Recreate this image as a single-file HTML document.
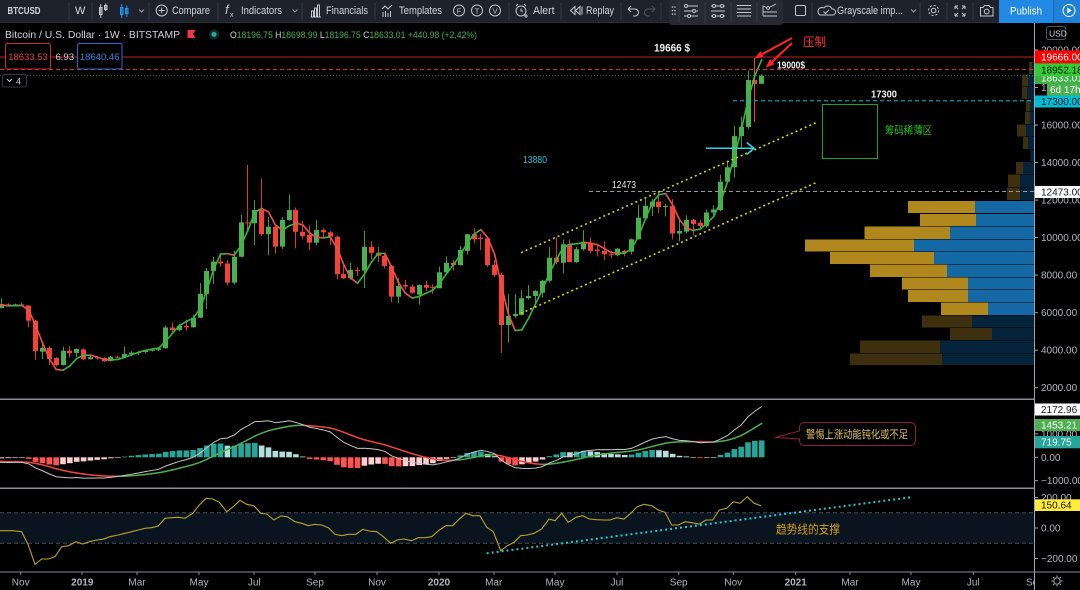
<!DOCTYPE html>
<html><head><meta charset="utf-8"><title>BTCUSD 1W</title>
<style>
html,body{margin:0;padding:0;background:#000;}
body{width:1080px;height:590px;overflow:hidden}
svg{display:block}
text{font-family:"Liberation Sans","Noto Sans CJK SC",sans-serif}
.ax{font-size:10px;fill:#b2b5be}
.tb{font-size:11px;fill:#d1d4dc}
.ta{font-size:10px;fill:#b2b5be;text-anchor:middle}
</style></head><body>
<svg id="s" width="1080" height="590" viewBox="0 0 1080 590" xmlns="http://www.w3.org/2000/svg">
<defs>
<clipPath id="cm"><rect x="0" y="23" width="1034" height="376"/></clipPath>
<clipPath id="cmacd"><rect x="0" y="400" width="1034" height="88"/></clipPath>
<clipPath id="ccci"><rect x="0" y="489" width="1034" height="83"/></clipPath>
</defs>
<rect width="1080" height="590" fill="#000"/>

<!-- CCI band -->
<rect x="0" y="512.8" width="1034" height="30.4" fill="#0a141e"/>
<line x1="0" y1="512.8" x2="1034" y2="512.8" stroke="#4a4e5a" stroke-dasharray="4 3"/>
<line x1="0" y1="543.2" x2="1034" y2="543.2" stroke="#4a4e5a" stroke-dasharray="4 3"/>

<g id="vp"></g>
<g id="cand" clip-path="url(#cm)"></g>
<g id="macd" clip-path="url(#cmacd)"></g>
<g id="cci" clip-path="url(#ccci)">
<polyline fill="none" stroke="#b8a428" stroke-width="1.1" points="0,530.7 13.3,530.7 21.7,531.7 28.3,545 35,564.3 41.7,559 48.3,559 55,556.7 61.7,546.7 68.3,545.7 76,541.7 82.7,544 89.3,541.7 96.7,540 102.7,539.3 110,536.7 118.3,535 125,533.3 131.7,531.7 138.3,530 145,528.3 151.7,527.7 158.3,526 165,518.3 171.7,517.7 178.3,517.3 185,518.3 192.7,513.3 199.3,505 206,498.3 212.7,499 219.3,502.3 226.7,511.7 233.3,506.7 240,500.3 246.7,504.3 254,505.7 260.7,513.3 266.7,514 274,520 280.7,516 287.3,516.7 295,521.7 301.7,523.3 308.3,525.7 315,524.3 321.7,525 328.3,527.7 335,534.3 341.7,535.7 348.3,534.3 356,534.3 362.7,529.3 369.3,531 376.7,531.7 383.3,536.7 390.7,543.3 397.3,540 404,539 411.7,540.7 418.3,537.7 425,537.7 431.7,536.7 439.3,530 446,525.7 452.7,525.7 459.3,519 466,513.3 472.7,515.7 480,515.7 486.7,527.3 493.3,531.7 500.7,550.7 507.3,545.7 514,542.3 520.7,535.7 527.3,535 534,533.3 541.7,529 549,519 555,520.7 561.7,513.3 568.3,522.3 576,517.3 582.7,515.7 589.3,519 596.7,519.7 603.3,520 610,520 616.7,517.7 624,519 630.7,513.3 637.3,506.7 644,504.3 651.7,505.7 658.3,510 665,512.3 671.7,525 678.3,525 685,521.7 691.7,522.7 699.3,524 706,520 712.7,520 719.3,510 726.7,508.3 733.3,501.7 740,503.3 747.3,496.7 754,503.3 761,505.7"/>
</g>

<!-- horizontal price lines -->
<line x1="0" y1="57" x2="1034" y2="57" stroke="#c81e1e" stroke-width="1"/>
<line x1="0" y1="69.5" x2="1034" y2="69.5" stroke="#d32f2f" stroke-dasharray="4 3"/>
<line x1="0" y1="75.6" x2="1034" y2="75.6" stroke="#2e7d32" stroke-dasharray="1 2"/>
<line x1="733" y1="100.7" x2="1034" y2="100.7" stroke="#00bcd4" stroke-dasharray="4 3"/>
<line x1="589" y1="191.5" x2="1034" y2="191.5" stroke="#9598a1" stroke-dasharray="4 3"/>

<!-- channel -->
<line x1="521" y1="252.7" x2="816" y2="122.7" stroke="#d8d800" stroke-width="1.6" stroke-dasharray="2 3"/>
<line x1="521" y1="313.3" x2="816" y2="182.7" stroke="#d8d800" stroke-width="1.6" stroke-dasharray="2 3"/>

<!-- annotations main -->
<text x="654" y="51.5" font-size="11" font-weight="bold" fill="#f0f0f0" textLength="36" lengthAdjust="spacingAndGlyphs">19666 $</text>
<text x="803" y="46" font-size="12" fill="#ff3030" textLength="23" lengthAdjust="spacingAndGlyphs">压制</text>
<g stroke="#ff2424" stroke-width="2" fill="#ff2424">
<line x1="792" y1="38" x2="762.2" y2="54.2"/>
<polygon points="754.3,58.5 763.9,57.3 760.5,51.1" stroke="none"/>
<line x1="792" y1="43" x2="772.3" y2="61.5"/>
<polygon points="765.7,67.7 774.7,64.1 769.9,59" stroke="none"/>
</g>
<text x="777" y="68.5" font-size="10" font-weight="bold" fill="#f0f0f0" textLength="28" lengthAdjust="spacingAndGlyphs">19000$</text>
<text x="871" y="97.5" font-size="10" font-weight="bold" fill="#f0f0f0" textLength="26" lengthAdjust="spacingAndGlyphs">17300</text>
<rect x="822.5" y="104.5" width="55" height="54" fill="none" stroke="#1fa21f" stroke-width="1"/>
<text x="885" y="134" font-size="11" fill="#22c022" textLength="47" lengthAdjust="spacingAndGlyphs">筹码稀薄区</text>
<g stroke="#2ad6ec" stroke-width="1.5" fill="none">
<line x1="706" y1="148.3" x2="754" y2="148.3"/>
<polyline points="746.7,142.5 754,148.3 746.7,154.5"/>
</g>
<text x="523" y="163" font-size="10" fill="#1cc4dc" textLength="24" lengthAdjust="spacingAndGlyphs">13880</text>
<text x="612" y="187.8" font-size="10" fill="#e6e6e6" textLength="24" lengthAdjust="spacingAndGlyphs">12473</text>

<!-- MACD callout -->
<path d="M805,422.5 H910 Q915.5,422.5 915.5,428 V440 Q915.5,445.5 910,445.5 H805 Q799.5,445.5 799.5,440 V439 L775,437.5 L799.5,431 V428 Q799.5,422.5 805,422.5 Z" fill="#000" stroke="#8e1b45" stroke-width="1"/>
<text x="806" y="438" font-size="11" fill="#e2c05a" textLength="102" lengthAdjust="spacingAndGlyphs">警惕上涨动能钝化或不足</text>

<!-- CCI trendline + text -->
<line x1="486.7" y1="553.3" x2="910.7" y2="497.3" stroke="#26c6da" stroke-width="2" stroke-dasharray="2 3"/>
<text x="776" y="533.5" font-size="12" fill="#d4a017" textLength="64" lengthAdjust="spacingAndGlyphs">趋势线的支撑</text>

<!-- panel separators -->
<rect x="0" y="398.5" width="1034" height="1.5" fill="#8a8d96"/>
<rect x="0" y="487.5" width="1034" height="1.5" fill="#8a8d96"/>
<line x1="0" y1="572" x2="1080" y2="572" stroke="#8a8d96" stroke-width="1"/>
<line x1="1034.5" y1="23" x2="1034.5" y2="590" stroke="#a0a3ab" stroke-width="1"/>

<!-- price axis ticks/labels -->
<g stroke="#a0a3ab">
<line x1="1034" y1="50" x2="1038" y2="50"/><line x1="1034" y1="87.5" x2="1038" y2="87.5"/>
<line x1="1034" y1="125" x2="1038" y2="125"/><line x1="1034" y1="162.6" x2="1038" y2="162.6"/>
<line x1="1034" y1="200.1" x2="1038" y2="200.1"/><line x1="1034" y1="237.6" x2="1038" y2="237.6"/>
<line x1="1034" y1="275.1" x2="1038" y2="275.1"/><line x1="1034" y1="312.7" x2="1038" y2="312.7"/>
<line x1="1034" y1="350.2" x2="1038" y2="350.2"/><line x1="1034" y1="387.7" x2="1038" y2="387.7"/>
<line x1="1034" y1="433.9" x2="1038" y2="433.9"/><line x1="1034" y1="457.3" x2="1038" y2="457.3"/>
<line x1="1034" y1="480.7" x2="1038" y2="480.7"/>
<line x1="1034" y1="497.5" x2="1038" y2="497.5"/><line x1="1034" y1="528" x2="1038" y2="528"/>
<line x1="1034" y1="558.5" x2="1038" y2="558.5"/>
</g>
<text class="ax" x="1041" y="53.5">20000.00</text>
<text class="ax" x="1041" y="91" fill="#d1d4dc">18000.00</text>
<text class="ax" x="1041" y="128.5">16000.00</text>
<text class="ax" x="1041" y="166">14000.00</text>
<text class="ax" x="1041" y="203.6">12000.00</text>
<text class="ax" x="1041" y="241">10000.00</text>
<text class="ax" x="1041" y="278.6">8000.00</text>
<text class="ax" x="1041" y="316.2">6000.00</text>
<text class="ax" x="1041" y="353.7">4000.00</text>
<text class="ax" x="1041" y="391.2">2000.00</text>
<text class="ax" x="1041" y="437.4">1000.00</text>
<text class="ax" x="1041" y="460.8">0.00</text>
<text class="ax" x="1041" y="484.2">−1000.00</text>
<text class="ax" x="1041" y="501">200.00</text>
<text class="ax" x="1041" y="531.5">0.00</text>
<text class="ax" x="1041" y="562">−200.00</text>

<!-- colored axis labels -->
<rect x="1035" y="71" width="45" height="13" fill="#3cb043"/>
<text x="1041" y="81.5" font-size="10" fill="#fff">18633.01</text>
<rect x="1035" y="50.5" width="45" height="12.8" fill="#ff0000"/>
<text x="1041" y="60.6" font-size="10" fill="#fff">19666.00</text>
<rect x="1035" y="63.3" width="45" height="12.7" fill="#33cc33"/>
<text x="1041" y="73.3" font-size="10" fill="#111">18952.18</text>
<rect x="1047" y="83.5" width="33" height="12.5" fill="#4caf50"/>
<text x="1050" y="93.2" font-size="10" fill="#fff">6d 17h</text>
<rect x="1035" y="95.5" width="45" height="12" fill="#00bcd4"/>
<text x="1041" y="105" font-size="10" fill="#0d1a22">17300.00</text>
<rect x="1035" y="186" width="45" height="12" fill="#ffffff"/>
<text x="1041" y="195.6" font-size="10" fill="#131722">12473.00</text>
<rect x="1035" y="403.5" width="45" height="12" fill="#ffffff"/>
<text x="1041" y="413" font-size="10" fill="#131722">2172.96</text>
<rect x="1035" y="419" width="45" height="12" fill="#4caf50"/>
<text x="1041" y="428.5" font-size="10" fill="#fff">1453.21</text>
<rect x="1035" y="436" width="45" height="12.3" fill="#26a69a"/>
<text x="1041" y="445.7" font-size="10" fill="#fff">719.75</text>
<rect x="1035" y="499.3" width="45" height="11.7" fill="#ffeb3b"/>
<text x="1041" y="508.6" font-size="10" fill="#131722">150.64</text>
<rect x="1046.5" y="26.5" width="19" height="13" rx="2" fill="#000" stroke="#50535e"/>
<text x="1049" y="36.3" font-size="8.5" fill="#d1d4dc">USD</text>

<!-- time axis -->
<g stroke="#8a8d96">
<line x1="20.7" y1="572" x2="20.7" y2="575"/><line x1="82" y1="572" x2="82" y2="575"/><line x1="137" y1="572" x2="137" y2="575"/>
<line x1="199" y1="572" x2="199" y2="575"/><line x1="254" y1="572" x2="254" y2="575"/><line x1="315" y1="572" x2="315" y2="575"/>
<line x1="377" y1="572" x2="377" y2="575"/><line x1="439" y1="572" x2="439" y2="575"/><line x1="494" y1="572" x2="494" y2="575"/>
<line x1="555" y1="572" x2="555" y2="575"/><line x1="617" y1="572" x2="617" y2="575"/><line x1="678.7" y1="572" x2="678.7" y2="575"/>
<line x1="733.3" y1="572" x2="733.3" y2="575"/><line x1="795.7" y1="572" x2="795.7" y2="575"/><line x1="850" y1="572" x2="850" y2="575"/>
<line x1="911" y1="572" x2="911" y2="575"/><line x1="973.3" y1="572" x2="973.3" y2="575"/>
</g>
<text class="ta" x="20.7" y="585.5">Nov</text>
<text class="ta" x="82.3" y="585.5" font-weight="bold">2019</text>
<text class="ta" x="137" y="585.5">Mar</text>
<text class="ta" x="199" y="585.5">May</text>
<text class="ta" x="254.3" y="585.5">Jul</text>
<text class="ta" x="315" y="585.5">Sep</text>
<text class="ta" x="377" y="585.5">Nov</text>
<text class="ta" x="439" y="585.5" font-weight="bold">2020</text>
<text class="ta" x="493.7" y="585.5">Mar</text>
<text class="ta" x="555" y="585.5">May</text>
<text class="ta" x="617" y="585.5">Jul</text>
<text class="ta" x="678.7" y="585.5">Sep</text>
<text class="ta" x="733.3" y="585.5">Nov</text>
<text class="ta" x="795.7" y="585.5" font-weight="bold">2021</text>
<text class="ta" x="850" y="585.5">Mar</text>
<text class="ta" x="911" y="585.5">May</text>
<text class="ta" x="973.3" y="585.5">Jul</text>
<text x="1026" y="585.5" font-size="10" fill="#b2b5be">Se</text>
<rect x="1035" y="573" width="45" height="17" fill="#000"/>
<line x1="1034.5" y1="572" x2="1034.5" y2="590" stroke="#a0a3ab"/>
<g stroke="#9598a1" fill="none" stroke-width="1.2">
<circle cx="1057" cy="581" r="3.2"/>
<path d="M1057,575.5 V577 M1057,585 V586.5 M1051.5,581 H1053 M1061,581 H1062.5 M1053.1,577.1 L1054.2,578.2 M1059.8,583.8 L1060.9,584.9 M1053.1,584.9 L1054.2,583.8 M1059.8,578.2 L1060.9,577.1"/>
</g>

<!-- legend -->
<text x="5" y="38" font-size="10" fill="#d1d4dc" textLength="175" lengthAdjust="spacingAndGlyphs">Bitcoin / U.S. Dollar · 1W · BITSTAMP</text>
<path d="M187.5,30 H195.5 L193,34 L195.5,38 H189.5 V38 H187.5 Z" fill="#f23645"/>
<circle cx="214" cy="34.3" r="5" fill="#0f2a26"/>
<circle cx="214" cy="34.3" r="2.6" fill="#26a69a"/>
<text x="230" y="38" font-size="9.5" textLength="247" lengthAdjust="spacingAndGlyphs"><tspan fill="#d1d4dc">O</tspan><tspan fill="#4caf50">18196.75 </tspan><tspan fill="#d1d4dc">H</tspan><tspan fill="#4caf50">18698.99 </tspan><tspan fill="#d1d4dc">L</tspan><tspan fill="#4caf50">18196.75 </tspan><tspan fill="#d1d4dc">C</tspan><tspan fill="#4caf50">18633.01 +440.98 (+2.42%)</tspan></text>
<rect x="5.5" y="43.5" width="45" height="25.5" rx="2" fill="#000" stroke="#c8283a"/>
<text x="28" y="60" font-size="9.5" fill="#e8404a" text-anchor="middle">18633.53</text>
<text x="55.5" y="60" font-size="9.5" fill="#d1d4dc">6.93</text>
<rect x="77.5" y="43.5" width="44.5" height="25.5" rx="2" fill="#000" stroke="#1e6fd9"/>
<text x="99.7" y="60" font-size="9.5" fill="#2f84e8" text-anchor="middle">18640.46</text>
<rect x="2.5" y="74.5" width="24" height="12.5" rx="2" fill="#000" stroke="#363a45"/>
<path d="M7,79 l2.5,2.5 l2.5,-2.5" stroke="#d1d4dc" fill="none"/>
<text x="16" y="84.5" font-size="9" fill="#d1d4dc">4</text>

<!-- top toolbar -->
<rect x="0" y="0" width="1080" height="23" fill="#1e222d"/>
<line x1="0" y1="22.5" x2="1080" y2="22.5" stroke="#2a2e39"/>
<g stroke="#363a45">
<line x1="69" y1="3" x2="69" y2="20"/><line x1="92" y1="3" x2="92" y2="20"/><line x1="149" y1="3" x2="149" y2="20"/>
<line x1="218" y1="3" x2="218" y2="20"/><line x1="302" y1="3" x2="302" y2="20"/><line x1="375" y1="3" x2="375" y2="20"/>
<line x1="509" y1="3" x2="509" y2="20"/><line x1="561" y1="3" x2="561" y2="20"/><line x1="621" y1="3" x2="621" y2="20"/>
<line x1="661" y1="3" x2="661" y2="20"/><line x1="812" y1="3" x2="812" y2="20"/><line x1="920" y1="3" x2="920" y2="20"/>
<line x1="947" y1="3" x2="947" y2="20"/><line x1="973" y1="3" x2="973" y2="20"/>
</g>
<text x="7.5" y="14" font-size="10.5" font-weight="bold" fill="#d1d4dc" textLength="33" lengthAdjust="spacingAndGlyphs">BTCUSD</text>
<text x="75" y="14" class="tb">W</text>
<g stroke="#c3c6ce" fill="none">
<rect x="99.5" y="7.5" width="2.5" height="7"/><line x1="100.75" y1="4" x2="100.75" y2="18"/>
<rect x="104.5" y="5.5" width="2.5" height="4"/><line x1="105.75" y1="3.5" x2="105.75" y2="11"/>
</g>
<g stroke="#2196f3" fill="none">
<rect x="120.5" y="7.5" width="2.5" height="7"/><line x1="121.75" y1="4" x2="121.75" y2="18"/>
<rect x="125.5" y="8.5" width="2.5" height="5"/><line x1="126.75" y1="5.5" x2="126.75" y2="17"/>
</g>
<path d="M139,9.5 l2.5,2.5 l2.5,-2.5" stroke="#9598a1" fill="none"/>
<g stroke="#c3c6ce" fill="none"><circle cx="161.7" cy="10.5" r="5.5"/><path d="M161.7,7.5 V13.5 M158.7,10.5 H164.7"/></g>
<text x="172" y="14" class="tb" textLength="38" lengthAdjust="spacingAndGlyphs">Compare</text>
<text x="225" y="14" font-size="13" font-style="italic" fill="#c3c6ce">f</text>
<text x="230" y="17" font-size="7" fill="#c3c6ce">x</text>
<text x="241" y="14" class="tb" textLength="41" lengthAdjust="spacingAndGlyphs">Indicators</text>
<path d="M292.5,9.5 l2.5,2.5 l2.5,-2.5" stroke="#9598a1" fill="none"/>
<g stroke="#c3c6ce" fill="none"><path d="M310.5,17 H321 M311.5,17 V11 H313.5 V17 M314.5,17 V8 H316.5 V17 M317.5,17 V5 H319.5 V17"/></g>
<text x="326" y="14" class="tb" textLength="42" lengthAdjust="spacingAndGlyphs">Financials</text>
<g stroke="#c3c6ce" fill="none"><path d="M382,9 L385,6 L388,9 L392,5 M383,17 V12 M385.5,17 V11 M388,17 V13 M390.5,17 V11"/></g>
<text x="399" y="14" class="tb" textLength="43" lengthAdjust="spacingAndGlyphs">Templates</text>
<g stroke="#c3c6ce" fill="none"><circle cx="459" cy="10.5" r="5.5"/><circle cx="477" cy="10.5" r="5.5"/><circle cx="495" cy="10.5" r="5.5"/></g>
<text x="459" y="13.5" font-size="7.5" fill="#c3c6ce" text-anchor="middle">F</text>
<text x="477" y="13.5" font-size="7.5" fill="#c3c6ce" text-anchor="middle">T</text>
<text x="495" y="13.5" font-size="7.5" fill="#c3c6ce" text-anchor="middle">V</text>
<g stroke="#c3c6ce" fill="none"><circle cx="521" cy="11" r="5"/><path d="M521,8.5 V11 H523 M516,6 L518,4 M526,6 L524,4 M524,16 h4 M526,14 v4"/></g>
<text x="533" y="14" class="tb" textLength="21.5" lengthAdjust="spacingAndGlyphs">Alert</text>
<g stroke="#c3c6ce" fill="none"><path d="M575,6.5 L570.5,10.5 L575,14.5 Z M580,6.5 L575.5,10.5 L580,14.5 Z M582,6.5 V14.5"/></g>
<text x="586" y="14" class="tb" textLength="28" lengthAdjust="spacingAndGlyphs">Replay</text>
<path d="M628,9 L631,6 M628,9 L631,12 M628,9 H635 A3.5,3.5 0 0 1 635,16 H633" stroke="#c3c6ce" fill="none"/>
<path d="M655,9 L652,6 M655,9 L652,12 M655,9 H648 A3.5,3.5 0 0 0 648,16 H650" stroke="#50535e" fill="none"/>
<rect x="669" y="0" width="114" height="25" rx="3" fill="#262a35"/>
<g fill="#c3c6ce"><circle cx="672.5" cy="7" r="0.8"/><circle cx="675" cy="7" r="0.8"/><circle cx="672.5" cy="10.5" r="0.8"/><circle cx="675" cy="10.5" r="0.8"/><circle cx="672.5" cy="14" r="0.8"/><circle cx="675" cy="14" r="0.8"/></g>
<g stroke="#363a45"><line x1="679" y1="2" x2="679" y2="23"/><line x1="705" y1="2" x2="705" y2="23"/><line x1="731" y1="2" x2="731" y2="23"/><line x1="757" y1="2" x2="757" y2="23"/></g>
<g stroke="#c3c6ce" fill="none" stroke-width="0.9">
<path d="M684,6 H698 M684,11 H698 M684,16 H698"/><circle cx="686" cy="6" r="1.5" fill="#262a35"/><circle cx="694" cy="11" r="1.5" fill="#262a35"/><circle cx="689" cy="16" r="1.5" fill="#262a35"/>
<path d="M711,6 H725 M711,11 H725 M711,16 H725"/><circle cx="714" cy="6" r="1.5" fill="#262a35"/><circle cx="722" cy="6" r="1.5" fill="#262a35"/><circle cx="714" cy="16" r="1.5" fill="#262a35"/><circle cx="722" cy="16" r="1.5" fill="#262a35"/>
<path d="M737,5.5 H751 M737,9 H751 M737,12.5 H751 M737,16 H751"/>
<path d="M763,16 H777 M763,12 H777 M763,16 V6 L768,8 L776,4"/><circle cx="768" cy="8" r="1.3" fill="#262a35"/>
</g>
<rect x="795.5" y="5.5" width="10" height="10" rx="1.5" fill="none" stroke="#c3c6ce"/>
<path d="M820,15 H833 A3,3 0 0 0 832,9 A4.5,4.5 0 0 0 824,8 A3.5,3.5 0 0 0 820,15 Z M823.5,11.5 L825.5,13.5 L829,9.8" stroke="#c3c6ce" fill="none"/>
<text x="837" y="14" class="tb" textLength="66" lengthAdjust="spacingAndGlyphs">Grayscale imp...</text>
<path d="M911,9.5 l2.5,2.5 l2.5,-2.5" stroke="#9598a1" fill="none"/>
<g stroke="#c3c6ce" fill="none"><circle cx="933.6" cy="10.5" r="2.3"/><circle cx="933.6" cy="10.5" r="5" stroke-dasharray="2.2 1.7"/></g>
<path d="M955,6 h3 M955,6 v3 M955,6 l3,3 M965,6 h-3 M965,6 v3 M965,6 l-3,3 M955,16 h3 M955,16 v-3 M955,16 l3,-3 M965,16 h-3 M965,16 v-3 M965,16 l-3,-3" stroke="#c3c6ce" fill="none"/>
<path d="M980.5,7.5 H983 L984.5,5.5 H989 L990.5,7.5 H993 V16 H980.5 Z" stroke="#c3c6ce" fill="none"/><circle cx="986.7" cy="11.5" r="2.4" stroke="#c3c6ce" fill="none"/>
<rect x="999" y="0" width="54" height="23" fill="#2189e3"/>
<text x="1010" y="14.5" font-size="11" fill="#fff" textLength="32" lengthAdjust="spacingAndGlyphs">Publish</text>
<rect x="1053" y="0" width="27" height="23" fill="#1f80d8"/>
<line x1="1053.5" y1="0" x2="1053.5" y2="23" stroke="#1769b8"/>
<circle cx="1069" cy="10.5" r="6" stroke="#fff" fill="none"/>
<path d="M1067.3,7.5 L1071.8,10.5 L1067.3,13.5 Z" fill="#fff"/>
</svg>
<script>
(function(){
var D=[
[6600,6650,6200,6300],[6250,6770,6230,6450],[6440,6500,6380,6420],[6400,6480,6330,6440],[6440,6550,6360,6400],
[6380,6400,5240,5570],[5570,5620,3480,3960],[3920,4450,3530,4120],[4120,4200,3210,3530],[3580,3620,3130,3210],
[3210,4190,3180,3970],[3970,4220,3600,3830],[3850,4100,3650,4060],[4040,4100,3470,3510],[3520,3720,3500,3620],
[3620,3650,3500,3580],[3580,3620,3380,3420],[3420,3690,3400,3650],[3650,3700,3580,3620],[3620,4200,3600,3790],
[3790,3950,3680,3870],[3870,3950,3740,3900],[3900,4030,3820,4000],[3980,4090,3930,4020],[4020,4150,3950,4100],
[4100,5310,4090,5210],[5210,5470,4950,5070],[5070,5400,5000,5300],[5300,5630,5050,5220],[5220,5900,5200,5730],
[5730,7580,5710,7000],[7000,8380,6200,8220],[8220,8970,7530,8720],[8720,9100,8450,8620],[8620,8800,7450,7600],
[7600,9300,7500,8980],[8980,11200,8950,10810],[10810,13880,10400,10760],[10760,12000,9600,11470],[11470,13160,10090,10180],
[10180,11100,9050,10580],[10580,10650,9150,9520],[9520,11100,9400,10940],[10940,12300,10900,11470],[11470,11600,9430,10310],
[10310,10900,9900,10090],[10140,10650,9340,9730],[9730,10950,9600,10400],[10400,10500,9950,10280],[10280,10350,9600,10050],
[10050,10100,7770,8050],[8050,8480,7800,7830],[7830,8650,7750,8270],[8270,8430,7950,8240],[8240,10350,7310,9510],
[9510,9800,8850,9190],[9190,9500,8700,9030],[9030,9150,8350,8490],[8490,8550,6560,6850],[6850,7850,6500,7420],
[7470,7750,7230,7390],[7390,7500,7000,7060],[6960,7500,6430,7470],[7470,7700,7150,7330],[7380,7500,7000,7360],
[7300,8450,7300,8150],[8150,9000,8100,8660],[8660,8800,8240,8540],[8540,9560,8500,9340],[9290,10180,9100,10180],
[10180,10500,9700,9910],[10000,10200,9340,9930],[9960,9990,8450,8540],[8540,8800,7900,8010],[8010,8150,3850,5340],
[5340,6990,4400,5820],[5820,6990,5700,5930],[5880,7200,5850,6770],[6770,7470,6700,6890],[6890,7200,6500,7150],
[7060,7750,6800,7700],[7700,9490,7600,8930],[8930,10000,8570,8690],[8660,9900,8100,9640],[9640,9900,8700,8690],
[8690,9500,8640,9380],[9380,10400,9300,9780],[9730,10000,9150,9290],[9360,9600,9000,9290],[9290,9800,8800,9110],
[9110,9300,8900,9060],[9060,9450,9000,9410],[9290,9350,9000,9200],[9250,9950,9100,9910],[9910,11750,9900,11060],
[11030,12100,10950,11690],[11650,12070,11150,11920],[11920,12480,11300,11620],[11650,11800,11130,11680],[11690,12050,9900,10220],
[10220,10950,9800,10350],[10320,11180,10200,10940],[10940,11000,10150,10730],[10790,10950,10400,10620],[10620,11500,10530,11340],
[11340,11720,11200,11500],[11470,13350,11400,12980],[12980,14100,12950,13750],[13750,15960,13200,15410],[15410,16450,14800,15910],
[15900,18900,15800,18400],[18400,19570,16160,18190],[18196.75,18698.99,18196.75,18633.01]
];
var pre=[6900,8000,8900,9300,9650,8700,8200,7350,7700,7600,6450,6150,6400,6750,6350,7400,8200,7000,6300,6400,7000,7300,6250,6500,6700,6600,6600];
var N0=pre.length, C=[],i;
for(i=0;i<pre.length;i++){C.push(pre[i]);}
for(i=0;i<D.length;i++){C.push(D[i][3]);}
function X(k){return -6+k*6.85;}
function PY(p){return 50+(20000-p)*0.01876;}
function f(v){return Math.round(v*100)/100;}
var NS='http://www.w3.org/2000/svg';
function el(parent,tag,attrs){var e=document.createElementNS(NS,tag);for(var a in attrs){e.setAttribute(a,attrs[a]);}parent.appendChild(e);return e;}
// volume profile
var gvp=document.getElementById('vp');
var bright=[[201,213,908,975],[214,226,920,976],[226.5,239,864.5,950],[239.5,251.5,805,914],[252,264,830,934],[264.5,277,870,947],[277.5,289.5,902,968],[290,302,908,968],[302.5,315,941,988]];
var dark=[[62,74,1029,1032],[74.5,86.5,1022,1028],[87,99,1022,1027],[99.5,111.5,1026,1030],[112,124,1025,1030],[124.5,136.5,1017,1026],[137,149,1023,1028],[149.5,161.5,1030.5,1030.5],[162,174,1016,1023],[174.5,187,1008,1020],[187.5,200,1007,1020],[315.5,327.5,922,972],[328,340,950,992],[340.5,353,860,940],[353.5,365,850,942]];
bright.forEach(function(r){el(gvp,'rect',{x:r[2],y:r[0],width:r[3]-r[2],height:r[1]-r[0],fill:'#b0881e'});el(gvp,'rect',{x:r[3],y:r[0],width:1034-r[3],height:r[1]-r[0],fill:'#1468a4'});});
dark.forEach(function(r){if(r[3]>r[2])el(gvp,'rect',{x:r[2],y:r[0],width:r[3]-r[2],height:r[1]-r[0],fill:'#3e2f0e'});el(gvp,'rect',{x:r[3],y:r[0],width:1034-r[3],height:r[1]-r[0],fill:'#05233b'});});
// candles
var gc=document.getElementById('cand');
for(i=0;i<D.length;i++){
 var d=D[i],cx=Math.round(X(i)),up=d[3]>=d[0];
 var col=up?'#4caf50':'#f44336', wc=up?'#3f9a44':'#d43a30';
 if(i==D.length-2) wc='#f44336';
 var t=PY(Math.max(d[0],d[3])),b=PY(Math.min(d[0],d[3])),h=Math.max(1,b-t);
 el(gc,'rect',{x:cx,y:f(PY(d[1])),width:1,height:f(PY(d[2])-PY(d[1])),fill:wc});
 el(gc,'rect',{x:cx-2,y:f(t),width:5,height:f(h),fill:col});
}
// HMA 9
function wma(a,n,k){var sw=0,sv=0;for(var q=0;q<n;q++){var idx=k-q;if(idx<0)break;sv+=a[idx]*(n-q);sw+=(n-q);}return sv/sw;}
var raw=[],hma=[];
for(i=0;i<C.length;i++){raw.push(2*wma(C,4,i)-wma(C,9,i));}
for(i=0;i<C.length;i++){hma.push(wma(raw,3,i));}
for(i=0;i<D.length;i++){
 var a=hma[N0+i-1],bb=hma[N0+i];
 var c2=bb>=a?'#36b83c':'#ec5050';
 el(gc,'line',{x1:f(X(i-1)+0.5),y1:f(PY(a)),x2:f(X(i)+0.5),y2:f(PY(bb)),stroke:c2,'stroke-width':1.6,'stroke-linecap':'round'});
}
// MACD
function ema(a,n){var k=2/(n+1),o=[a[0]];for(var q=1;q<a.length;q++)o.push(a[q]*k+o[q-1]*(1-k));return o;}
var e12=ema(C,12),e26=ema(C,26),m=[];
for(i=0;i<C.length;i++)m.push(e12[i]-e26[i]);
var sg=ema(m,9),hs=[];
for(i=0;i<C.length;i++)hs.push(m[i]-sg[i]);
function MY(v){return 457.3-v*0.0234;}
var gm=document.getElementById('macd');
for(i=0;i<D.length;i++){
 var k=N0+i,hv=hs[k],hp=hs[k-1],cc;
 if(hv>=0) cc=(hp<hv)?'#26a69a':'#b2dfdb'; else cc=(hp<hv)?'#ffcdd2':'#ff5252';
 var y1=MY(Math.max(hv,0)),y2=MY(Math.min(hv,0));
 el(gm,'rect',{x:f(X(i)+0.5-2.8),y:f(y1),width:5.6,height:f(Math.max(0.6,y2-y1)),fill:cc});
}
for(i=0;i<D.length;i++){
 var k2=N0+i,cl=m[k2]>=sg[k2]?'#4caf50':'#f0453e';
 el(gm,'line',{x1:f(X(i-1)+0.5),y1:f(MY(sg[k2-1])),x2:f(X(i)+0.5),y2:f(MY(sg[k2])),stroke:cl,'stroke-width':1.5,'stroke-linecap':'round'});
}
var pts=[];
for(i=-1;i<D.length;i++){pts.push(f(X(i)+0.5)+','+f(MY(m[N0+i])));}
el(gm,'polyline',{points:pts.join(' '),fill:'none',stroke:'#c4c4c4','stroke-width':1});
})();
</script>
</body></html>
